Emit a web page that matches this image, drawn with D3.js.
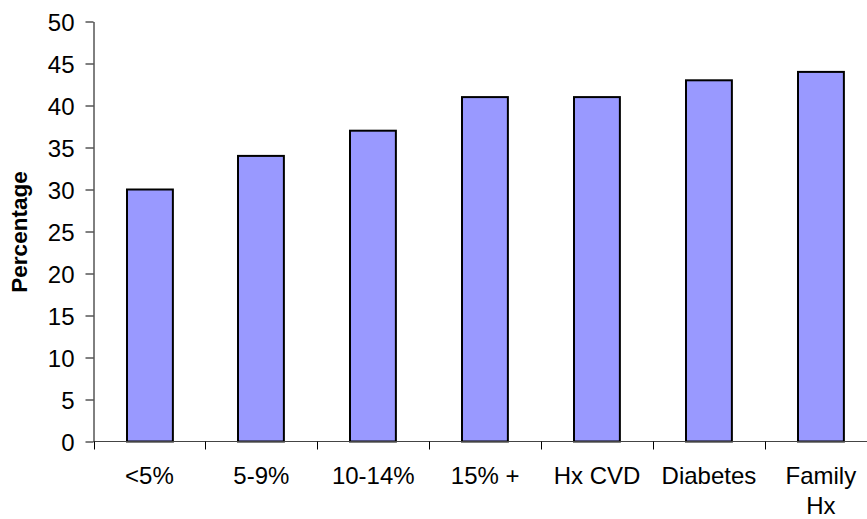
<!DOCTYPE html>
<html>
<head>
<meta charset="utf-8">
<script src="https://cdn.jsdelivr.net/npm/d3@7"></script>
<style>
  html, body { margin: 0; padding: 0; background: #fff; }
  svg { display: block; }
  text { font-family: "Liberation Sans", Arial, sans-serif; fill: #000; }
</style>
</head>
<body>
<svg id="chart" width="867" height="519"></svg>
<script>
// Share of patients, by risk group
const categories = ["<5%", "5-9%", "10-14%", "15% +", "Hx CVD", "Diabetes", "Family Hx"];
const values = [30, 34, 37, 41, 41, 43, 44];
const yTicks = [0, 5, 10, 15, 20, 25, 30, 35, 40, 45, 50];
const yTitle = "Percentage";

const svg = d3.select("#chart");
const plotLeft = 93.5, plotBottom = 441.5, plotTop = 21.5;
const step = 111.9;

const x = d3.scaleBand()
  .domain(categories)
  .range([plotLeft, plotLeft + step * categories.length])
  .padding(0);

const y = d3.scaleLinear()
  .domain([0, 50])
  .range([plotBottom, plotTop]);

const barW = x.step() * 0.41;

// bars
svg.append("g")
  .selectAll("rect")
  .data(values)
  .join("rect")
  .attr("x", (d, i) => Math.round(x(categories[i]) + x.bandwidth() / 2 - barW / 2))
  .attr("y", d => y(d))
  .attr("width", barW)
  .attr("height", d => plotBottom - y(d))
  .attr("fill", "#9999ff")
  .attr("stroke", "#000")
  .attr("stroke-width", 2);

// y axis
const yAxis = svg.append("g")
  .attr("transform", `translate(${plotLeft},0)`)
  .call(d3.axisLeft(y).tickValues(yTicks).tickSize(8).tickPadding(11).tickSizeOuter(0));
yAxis.select(".domain").attr("stroke", "#000");
yAxis.selectAll(".tick line").attr("stroke", "#000");
yAxis.selectAll(".tick text")
  .attr("font-size", 24)
  .attr("font-family", "Liberation Sans, Arial, sans-serif")
  .attr("dy", "0.36em");

// x axis with ticks at category boundaries
const xAxisG = svg.append("g").attr("transform", `translate(0,${plotBottom})`);
xAxisG.append("line")
  .attr("x1", plotLeft).attr("x2", x.range()[1])
  .attr("stroke", "#444");
const boundaries = categories.map(c => x(c)).concat([x.range()[1]]);
xAxisG.selectAll("line.tick")
  .data(boundaries)
  .join("line")
  .attr("class", "tick")
  .attr("x1", d => Math.round(d) + 0.5).attr("x2", d => Math.round(d) + 0.5)
  .attr("y1", 0).attr("y2", 8)
  .attr("stroke", "#000");

// category labels, wrapped onto two lines where needed
const labelG = xAxisG.selectAll("text.cat")
  .data(categories)
  .join("text")
  .attr("class", "cat")
  .attr("text-anchor", "middle")
  .attr("font-size", 24)
  .attr("transform", d => `translate(${x(d) + x.bandwidth() / 2},42)`);
labelG.each(function(d) {
  const t = d3.select(this);
  const words = d === "Family Hx" ? ["Family", "Hx"] : [d];
  words.forEach((w, i) => {
    t.append("tspan").attr("x", 0).attr("y", i * 30).text(w);
  });
});

// y axis title
svg.append("text")
  .attr("transform", "translate(27,232) rotate(-90)")
  .attr("text-anchor", "middle")
  .attr("font-size", 22.5)
  .attr("font-weight", "bold")
  .text(yTitle);
</script>
</body>
</html>
